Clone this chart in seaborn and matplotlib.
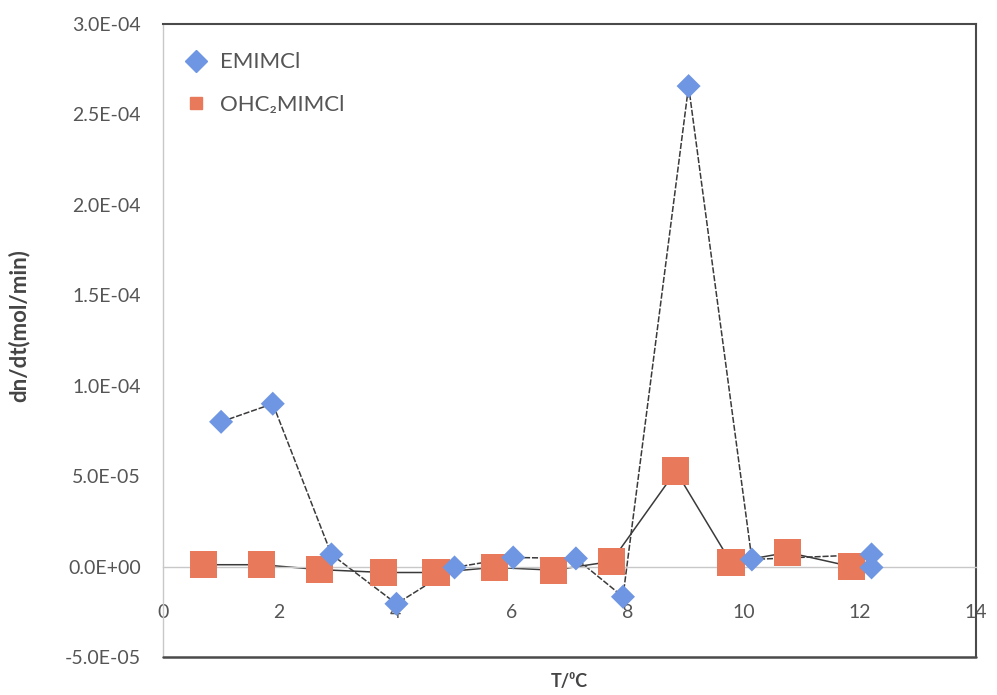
import matplotlib
matplotlib.use("Agg")
import matplotlib.pyplot as plt
import seaborn as sns
import pandas as pd
import numpy as np
from matplotlib.ticker import FuncFormatter, MultipleLocator
from matplotlib.lines import Line2D

# ---- data ----
emim_T = [1.0, 1.89, 2.9, 4.02, 5.02, 6.03, 7.11, 7.92, 9.05, 10.14, 12.2, 12.2]
emim_rate = [8.0e-5, 9.0e-5, 0.67e-5, -2.06e-5, -0.05e-5, 0.5e-5, 0.45e-5,
             -1.67e-5, 2.656e-4, 0.39e-5, 0.67e-5, -0.05e-5]
ohc_T = [0.7, 1.7, 2.7, 3.8, 4.7, 5.7, 6.72, 7.72, 8.83, 9.78, 10.76, 11.85]
ohc_rate = [0.1e-5, 0.1e-5, -0.17e-5, -0.33e-5, -0.33e-5, -0.05e-5, -0.2e-5,
            0.28e-5, 5.28e-5, 0.22e-5, 0.78e-5, 0.0]
series_names = ["EMIMCl", "OHC₂MIMCl"]
x_ticks = [0, 2, 4, 6, 8, 10, 12, 14]
y_min, y_max, y_step = -5e-5, 3e-4, 5e-5

df = pd.concat([
    pd.DataFrame({"T": emim_T, "rate": emim_rate, "series": series_names[0]}),
    pd.DataFrame({"T": ohc_T, "rate": ohc_rate, "series": series_names[1]}),
], ignore_index=True)

sns.set_theme(style="white")
plt.rcParams["font.family"] = ["Lato", "DejaVu Sans"]

colors = {series_names[0]: "#6F96E2", series_names[1]: "#E8795B"}
markers = {series_names[0]: "D", series_names[1]: "s"}

fig = plt.figure(figsize=(9.97, 6.95), dpi=100)
ax = fig.add_axes([0.1635, 0.0547, 0.8155, 0.911])

# connecting lines
sns.lineplot(data=df[df.series == series_names[1]], x="T", y="rate", sort=False,
             estimator=None, color="#3a3a3a", lw=1.1, ax=ax, legend=False, zorder=2)
sns.lineplot(data=df[df.series == series_names[0]], x="T", y="rate", sort=False,
             estimator=None, color="#3a3a3a", lw=1.1, ax=ax, legend=False, zorder=2)
ax.lines[-1].set_dashes([4, 1.2])

# markers
for name, size in [(series_names[1], 380), (series_names[0], 150)]:
    sub = df[df.series == name]
    sns.scatterplot(data=sub, x="T", y="rate", marker=markers[name], color=colors[name],
                    s=size, edgecolor="none", ax=ax, legend=False, zorder=3)

ax.set_xlim(0, 14)
ax.set_ylim(y_min, y_max)
ax.set_xticks(x_ticks)
ax.yaxis.set_major_locator(MultipleLocator(y_step))
ax.yaxis.set_major_formatter(FuncFormatter(lambda v, p: f"{v:.1E}"))

# spines in Excel style
ax.spines["bottom"].set_position(("data", 0))
ax.spines["bottom"].set_color("#c8c8c8")
ax.spines["bottom"].set_linewidth(1.0)
ax.spines["left"].set_color("#c8c8c8")
ax.spines["left"].set_linewidth(1.0)
for s in ["top", "right"]:
    ax.spines[s].set_color("#4a4a4a")
    ax.spines[s].set_linewidth(1.5)
ax.plot([0, 1], [0, 0], transform=ax.transAxes, color="#4a4a4a", lw=1.8, clip_on=False, zorder=5)

ax.tick_params(axis="both", length=0, labelcolor="#555555")
ax.tick_params(axis="x", pad=27, labelsize=14)
ax.tick_params(axis="y", pad=16, labelsize=14)

ax.set_xlabel("T/⁰C", fontsize=13, fontweight="bold", color="#444444")
ax.xaxis.set_label_coords(0.5, -0.025)
ax.set_ylabel("dn/dt(mol/min)", fontsize=16, fontweight="bold", color="#444444")
ax.yaxis.set_label_coords(-0.164, 0.523)

handles = [Line2D([], [], marker="D", ls="none", color=colors[series_names[0]], markersize=11),
           Line2D([], [], marker="s", ls="none", color=colors[series_names[1]], markersize=9)]
leg = ax.legend(handles, series_names, loc="upper left", frameon=False, fontsize=16,
                handlelength=1.4, handletextpad=0.35, labelspacing=1.0,
                borderpad=0, borderaxespad=0, bbox_to_anchor=(0.022, 0.955))
for t in leg.get_texts():
    t.set_color("#555555")

fig.savefig("out.png", dpi=100)
